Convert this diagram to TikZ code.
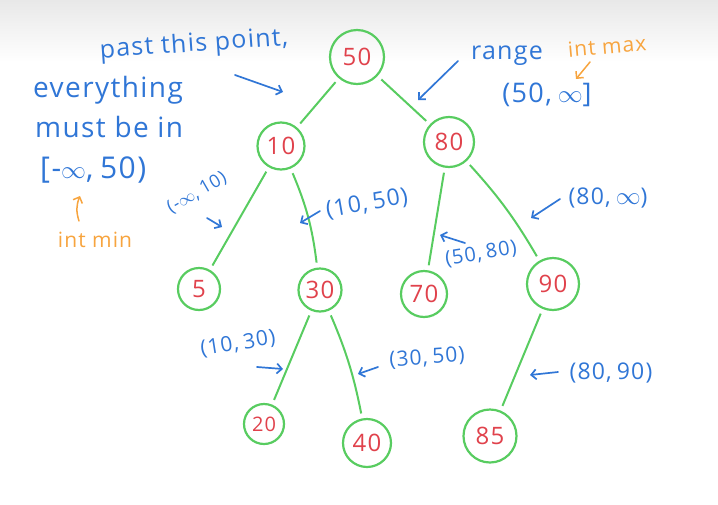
\documentclass[tikz,border=0pt]{standalone}
\usepackage{fontspec}
\setmainfont{Open Sans}[LetterSpace=5]
\usetikzlibrary{arrows.meta}
\definecolor{chalkgreen}{RGB}{88,204,96}
\definecolor{chalkred}{RGB}{224,66,76}
\definecolor{chalkblue}{RGB}{48,118,214}
\definecolor{chalkorange}{RGB}{247,164,62}
\newcommand{\fs}[1]{\fontsize{#1}{#1}\selectfont}
\newcommand{\cma}{,\hspace{.22em}}
\newcommand{\infy}{\ensuremath{\infty}}
\tikzset{
  bstnode/.style={circle, draw=chalkgreen, line width=2.2pt, inner sep=0pt, text=chalkred, font=\fs{24}},
  treeedge/.style={draw=chalkgreen, line width=2pt, shorten >=5pt, shorten <=5pt},
  note/.style={text=chalkblue, inner sep=0pt, font=\fs{22}},
  aside/.style={text=chalkorange, inner sep=0pt, font=\fs{21}},
  hint/.style={draw=chalkblue, line width=1.7pt, line cap=round, -{Straight Barb[length=5pt,width=10pt]}},
  asidehint/.style={hint, draw=chalkorange, line width=1.5pt}
}
\begin{document}
\begin{tikzpicture}[x=1pt, y=-1pt]
\useasboundingbox (0,0) rectangle (718,504);
\shade[top color=black!9, bottom color=white, draw=none] (0,0) rectangle (718,62);

% the tree
\node[bstnode, minimum size=54pt] (n50) at (357,57) {50};
\node[bstnode, minimum size=47pt] (n10) at (281,146) {10};
\node[bstnode, minimum size=50pt] (n80) at (449,142) {80};
\node[bstnode, minimum size=42pt] (n5) at (199,289) {5};
\node[bstnode, minimum size=43pt] (n30) at (320,290) {30};
\node[bstnode, minimum size=46pt] (n70) at (424,294) {70};
\node[bstnode, minimum size=52pt] (n90) at (553,284) {90};
\node[bstnode, minimum size=40pt, font=\fs{20}] (n20) at (264,424) {20};
\node[bstnode, minimum size=48pt] (n40) at (367,443) {40};
\node[bstnode, minimum size=53pt] (n85) at (490,436) {85};

\draw[treeedge] (n50) -- (n10);
\draw[treeedge] (n50) -- (n80);
\draw[treeedge] (n10) -- (n5);
\draw[treeedge] (n10) to[bend left=8] (n30);
\draw[treeedge] (n80) -- (n70);
\draw[treeedge] (n80) to[bend left=6] (n90);
\draw[treeedge] (n30) -- (n20);
\draw[treeedge] (n30) to[bend left=6] (n40);
\draw[treeedge] (n90) -- (n85);

% notes on the left
\node[note, font=\fs{25}, rotate=4] (past) at (194,45) {past this point,};
\node[note, font=\fs{28}, anchor=west] (every) at (33,90) {everything};
\node[note, font=\fs{28}, anchor=west] (must) at (35,127) {must be in};
\node[note, font=\fs{30}, anchor=west] (lowrange) at (40,170) {[-\infy\cma 50)};
\node[aside] (intmin) at (95,240) {int min};
\coordinate (pastend) at (283,92);
\coordinate (paststart) at (235,75);
\draw[hint] (paststart) -- (pastend);
\coordinate (minstart) at (79,221);
\coordinate (minend) at (80,196);
\draw[asidehint] (minstart) to[bend left=20] (minend);

% notes on the right
\node[note, font=\fs{25}] (rangeword) at (507,56) {range};
\node[note, font=\fs{27}] (highrange) at (547,95) {(50\cma\infy]};
\node[aside, rotate=5] (intmax) at (607,46) {int max};
\coordinate (rangestart) at (458,61);
\coordinate (rangeend) at (418,100);
\draw[hint] (rangestart) -- (rangeend);
\coordinate (maxstart) at (590,62);
\coordinate (maxend) at (576,79);
\draw[asidehint] (maxstart) -- (maxend);

% ranges along the edges
\node[note, font=\fs{18}, rotate=30] (r5) at (197,193) {(-\infy\cma 10)};
\node[note, font=\fs{23}, rotate=10] (r30) at (367,204) {(10\cma 50)};
\node[note, font=\fs{23}] (r90) at (608,198) {(80\cma\infy)};
\node[note, font=\fs{20}, rotate=9] (r70) at (481,254) {(50\cma 80)};
\node[note, font=\fs{21}, rotate=9] (r20) at (238,344) {(10\cma 30)};
\node[note, font=\fs{21}, rotate=4] (r40) at (427,358) {(30\cma 50)};
\node[note, font=\fs{23}] (r85) at (611,373) {(80\cma 90)};

\coordinate (a5s) at (207,218);
\coordinate (a5e) at (222,227);
\coordinate (a30s) at (320,211);
\coordinate (a30e) at (300,223);
\coordinate (a90s) at (560,199);
\coordinate (a90e) at (531,218);
\coordinate (a70s) at (465,243);
\coordinate (a70e) at (440,235);
\coordinate (a20s) at (257,367);
\coordinate (a20e) at (283,369);
\coordinate (a40s) at (378,367);
\coordinate (a40e) at (358,374);
\coordinate (a85s) at (558,372);
\coordinate (a85e) at (530,375);
\foreach \a in {5,30,90,70,20,40,85}
  \draw[hint] (a\a s) -- (a\a e);
\end{tikzpicture}
\end{document}
